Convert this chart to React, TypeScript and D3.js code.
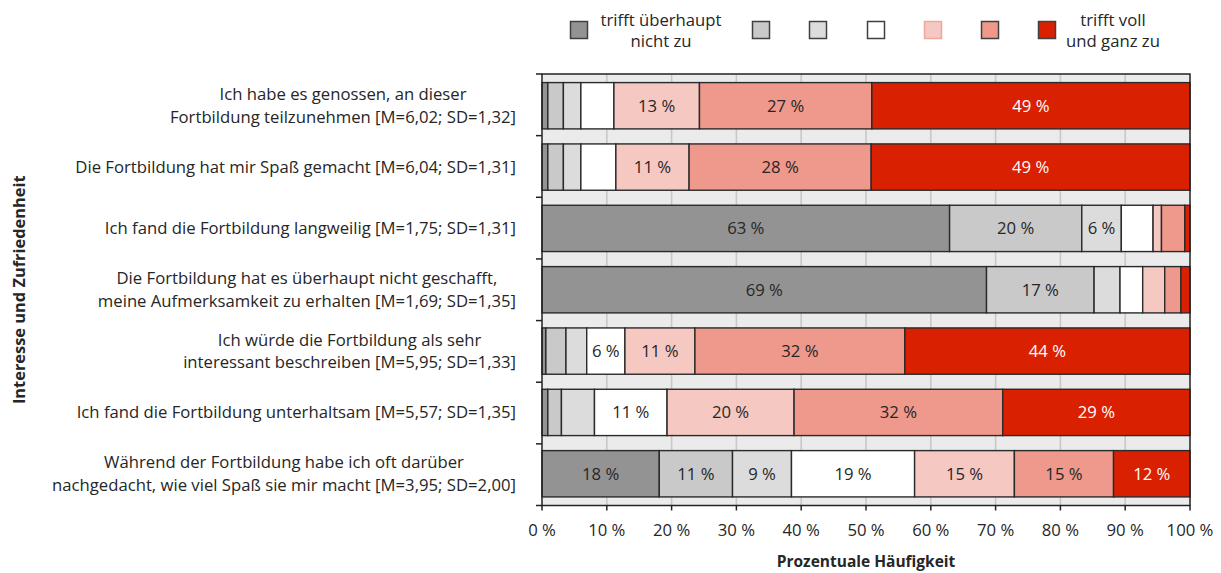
import React from "react";
import * as d3 from "d3";

const categoryLines: string[][] = [
  ["Ich habe es genossen, an dieser", "Fortbildung teilzunehmen [M=6,02; SD=1,32]"],
  ["Die Fortbildung hat mir Spaß gemacht [M=6,04; SD=1,31]"],
  ["Ich fand die Fortbildung langweilig [M=1,75; SD=1,31]"],
  ["Die Fortbildung hat es überhaupt nicht geschafft,", "meine Aufmerksamkeit zu erhalten [M=1,69; SD=1,35]"],
  ["Ich würde die Fortbildung als sehr", "interessant beschreiben [M=5,95; SD=1,33]"],
  ["Ich fand die Fortbildung unterhaltsam [M=5,57; SD=1,35]"],
  ["Während der Fortbildung habe ich oft darüber", "nachgedacht, wie viel Spaß sie mir macht [M=3,95; SD=2,00]"],
];

// Series: rating 1 (trifft überhaupt nicht zu) ... rating 7 (trifft voll und ganz zu)
const series1 = [0.9, 0.9, 62.9, 68.6, 0.6, 0.9, 18.1];
const series2 = [2.4, 2.4, 20.4, 16.6, 3.1, 2.1, 11.3];
const series3 = [2.7, 2.7, 6.1, 4.0, 3.2, 5.1, 9.1];
const series4 = [5.1, 5.4, 4.9, 3.5, 5.9, 11.2, 19.0];
const series5 = [13.2, 11.3, 1.3, 3.4, 10.8, 19.6, 15.4];
const series6 = [26.6, 28.1, 3.6, 2.5, 32.4, 32.2, 15.3];
const series7 = [49.1, 49.2, 0.8, 1.4, 44.0, 28.9, 11.8];

const seriesKeys = ["s1", "s2", "s3", "s4", "s5", "s6", "s7"];
const seriesColors = ["#939393", "#c9c9c9", "#dcdcdc", "#ffffff", "#f6c8c2", "#ee998c", "#d92000"];
const legendStrokes = ["#404040", "#404040", "#404040", "#404040", "#efa79d", "#404040", "#404040"];
const labelColors = ["#333", "#333", "#333", "#333", "#333", "#333", "#ffffff"];

const xTicks = [0, 10, 20, 30, 40, 50, 60, 70, 80, 90, 100];
const legendFirstLabel = ["trifft überhaupt", "nicht zu"];
const legendLastLabel = ["trifft voll", "und ganz zu"];
const yTitle = "Interesse und Zufriedenheit";
const xTitle = "Prozentuale Häufigkeit";

const FONT = "'Open Sans', sans-serif";

let measureCtx: CanvasRenderingContext2D | null = null;
function measure(text: string, size: number): number {
  if (!measureCtx) {
    const c = document.createElement("canvas");
    measureCtx = c.getContext("2d");
  }
  if (!measureCtx) return text.length * size * 0.5;
  measureCtx.font = `${size}px ${FONT}`;
  return measureCtx.measureText(text).width;
}

export default function App() {
  const W = 1221;
  const H = 573;
  const left = 542;
  const right = 1190;
  const top = 74;
  const bottom = 505.5;

  const allSeries = [series1, series2, series3, series4, series5, series6, series7];
  const table = categoryLines.map((_, i) => {
    const row: Record<string, number | string> = { id: String(i) };
    seriesKeys.forEach((k, j) => (row[k] = allSeries[j][i]));
    return row;
  });
  const stacked = d3.stack<any>().keys(seriesKeys)(table);

  const x = d3.scaleLinear().domain([0, 100]).range([left, right]);
  const y = d3
    .scaleBand()
    .domain(table.map((d) => d.id as string))
    .range([top, bottom])
    .paddingInner(0.245)
    .paddingOuter(0.14);
  const yDiv = d3.scaleLinear().domain([0, categoryLines.length]).range([top, bottom]);

  const legendX = [579, 761, 818, 876, 933, 990, 1047];
  const box = 17;
  const fs = 16.7;
  const labelRight = 516;
  const textColor = "#262626";

  return (
    <svg
      width={W}
      height={H}
      style={{ position: "absolute", left: 0, top: 0, background: "#fff" }}
      fontFamily={FONT}
    >
      <rect x={left} y={top} width={right - left} height={bottom - top} fill="#ebebeb" />
      {xTicks.slice(1, -1).map((t) => (
        <line key={t} x1={x(t)} x2={x(t)} y1={top} y2={bottom} stroke="#c8c8c8" strokeWidth={1.6} />
      ))}
      {stacked.map((s, si) => (
        <g key={s.key}>
          {s.map((d, i) => {
            const x0 = x(d[0]);
            const x1 = x(d[1]);
            const yy = y(String(i))!;
            return (
              <rect
                key={i}
                x={x0}
                y={yy}
                width={x1 - x0}
                height={y.bandwidth()}
                fill={seriesColors[si]}
                stroke="#2a2a2a"
                strokeWidth={1.4}
              />
            );
          })}
        </g>
      ))}
      {stacked.map((s, si) => (
        <g key={"l" + s.key}>
          {s.map((d, i) => {
            const v = d[1] - d[0];
            if (v < 5.5) return null;
            return (
              <text
                key={i}
                x={(x(d[0]) + x(d[1])) / 2}
                y={y(String(i))! + y.bandwidth() / 2}
                dy="0.35em"
                textAnchor="middle"
                fontSize={fs}
                fill={si === 6 ? labelColors[si] : textColor}
              >
                {Math.round(v) + " %"}
              </text>
            );
          })}
        </g>
      ))}
      <rect x={left} y={top} width={right - left} height={bottom - top} fill="none" stroke="#222" strokeWidth={1.5} />
      {d3.range(categoryLines.length + 1).map((k) => (
        <line key={k} x1={left - 6} x2={left} y1={yDiv(k)} y2={yDiv(k)} stroke="#222" strokeWidth={1.5} />
      ))}
      {xTicks.map((t) => (
        <g key={"t" + t}>
          <line x1={x(t)} x2={x(t)} y1={bottom} y2={bottom + 5} stroke="#222" strokeWidth={1.5} />
          <text x={x(t)} y={530} dy="0.35em" textAnchor="middle" fontSize={fs} fill={textColor}>
            {t + " %"}
          </text>
        </g>
      ))}
      {categoryLines.map((lines, i) => {
        const cy = y(String(i))! + y.bandwidth() / 2;
        const lh = 22.5;
        const start = cy - ((lines.length - 1) * lh) / 2;
        const maxW = Math.max(...lines.map((ln) => measure(ln, fs)));
        const cx = labelRight - maxW / 2;
        return (
          <text key={i} textAnchor="middle" fontSize={fs} fill={textColor}>
            {lines.map((ln, j) => (
              <tspan key={j} x={cx} y={start + j * lh} dy="0.35em">
                {ln}
              </tspan>
            ))}
          </text>
        );
      })}
      <text
        transform={`translate(19,${(top + bottom) / 2}) rotate(-90)`}
        textAnchor="middle"
        dy="0.35em"
        fontSize={16.4}
        fontWeight="bold"
        fill={textColor}
      >
        {yTitle}
      </text>
      <text x={(left + right) / 2} y={562} dy="0.35em" textAnchor="middle" fontSize={15.5} fontWeight="bold" fill={textColor}>
        {xTitle}
      </text>
      {seriesKeys.map((k, i) => (
        <rect
          key={"lg" + k}
          x={legendX[i] - box / 2}
          y={30 - box / 2}
          width={box}
          height={box}
          fill={seriesColors[i]}
          stroke={legendStrokes[i]}
          strokeWidth={1.5}
        />
      ))}
      <text textAnchor="middle" fontSize={fs} fill={textColor}>
        {legendFirstLabel.map((ln, j) => (
          <tspan key={j} x={661} y={20 + j * 21.5} dy="0.35em">
            {ln}
          </tspan>
        ))}
      </text>
      <text textAnchor="middle" fontSize={fs} fill={textColor}>
        {legendLastLabel.map((ln, j) => (
          <tspan key={j} x={1113} y={20 + j * 21.5} dy="0.35em">
            {ln}
          </tspan>
        ))}
      </text>
    </svg>
  );
}
